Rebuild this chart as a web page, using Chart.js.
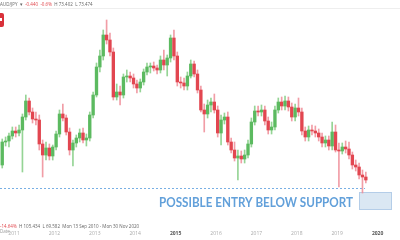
<!DOCTYPE html>
<html><head><meta charset="utf-8">
<script src="https://cdn.jsdelivr.net/npm/chart.js@4/dist/chart.umd.min.js"></script>
<style>
html,body{margin:0;padding:0;background:#fff;width:400px;height:240px;overflow:hidden}
#wrap{position:relative;width:400px;height:240px}
#c{position:absolute;left:0;top:0}
.t{position:absolute;font-family:"Open Sans",sans-serif;font-size:4.5px;line-height:5px;white-space:nowrap;color:#666}
.r{color:#e0464c}
#sep{position:absolute;left:0;top:8px;width:400px;height:1px;background:#eee}
#ico{position:absolute;left:-10px;top:13px;width:14px;height:14px;background:#d9313a;border-radius:2px}
#ico i{position:absolute;left:10px;top:5px;width:2px;height:3px;background:#fff}
</style></head><body>
<div id="wrap">
<canvas id="c" width="400" height="240"></canvas>
<div id="sep"></div>
<div id="ico"><i></i></div>
<div class="t" style="left:0;top:2px">AUD/JPY &nbsp;▾ &nbsp;<span class="r">-0.440 &nbsp;-0.6%</span> &nbsp;H 73.402 &nbsp;L 73.474</div>
<div class="t" style="left:0;top:224px"><span class="r">-14.64%</span> &nbsp;H 105.434 &nbsp;L 69.582 &nbsp;Mon 13 Sep 2010 - Mon 30 Nov 2020</div>
<div class="t" style="left:0;top:229px;color:#999">Date</div>
</div>
<script>
// Monthly AUD/JPY candles
const months = [
 '2010-09','2010-10','2010-11','2010-12',
 '2011-01','2011-02','2011-03','2011-04','2011-05','2011-06','2011-07','2011-08','2011-09','2011-10','2011-11','2011-12',
 '2012-01','2012-02','2012-03','2012-04','2012-05','2012-06','2012-07','2012-08','2012-09','2012-10','2012-11','2012-12',
 '2013-01','2013-02','2013-03','2013-04','2013-05','2013-06','2013-07','2013-08','2013-09','2013-10','2013-11','2013-12',
 '2014-01','2014-02','2014-03','2014-04','2014-05','2014-06','2014-07','2014-08','2014-09','2014-10','2014-11','2014-12',
 '2015-01','2015-02','2015-03','2015-04','2015-05','2015-06','2015-07','2015-08','2015-09','2015-10','2015-11','2015-12',
 '2016-01','2016-02','2016-03','2016-04','2016-05','2016-06','2016-07','2016-08','2016-09','2016-10','2016-11','2016-12',
 '2017-01','2017-02','2017-03','2017-04','2017-05','2017-06','2017-07','2017-08','2017-09','2017-10','2017-11','2017-12',
 '2018-01','2018-02','2018-03','2018-04','2018-05','2018-06','2018-07','2018-08','2018-09','2018-10','2018-11','2018-12',
 '2019-01','2019-02','2019-03','2019-04','2019-05','2019-06','2019-07','2019-08','2019-09'
];
const open = [
 76.4,81.0,81.2,82.2,
 83.2,82.8,83.4,86.0,89.2,87.0,85.6,85.4,80.6,78.4,79.8,78.2,
 80.0,82.6,86.6,85.8,83.0,79.4,80.8,81.8,82.8,81.4,81.8,86.4,
 90.4,96.0,98.2,102.4,101.4,99.0,90.0,91.0,90.4,94.0,94.2,93.8,
 92.6,91.8,93.0,95.0,96.0,96.2,95.8,95.4,97.4,96.4,97.8,101.8,
 98.2,93.0,92.8,92.2,94.2,96.6,94.6,91.4,87.4,86.6,88.4,89.0,
 87.4,82.8,85.4,86.0,81.0,79.4,77.8,78.2,77.6,78.4,80.6,85.0,
 87.2,87.0,87.4,85.2,83.4,84.0,87.4,89.0,88.2,89.2,88.0,86.0,
 87.8,87.0,83.2,82.0,83.4,83.2,82.8,82.0,80.8,81.4,80.2,83.0,
 79.4,79.2,80.0,79.6,78.4,76.4,76.0,74.4,74.0
];
const close = [
 81.0,81.2,82.2,83.2,
 82.8,83.4,86.0,89.2,87.0,85.6,85.4,80.6,78.4,79.8,78.2,80.0,
 82.6,86.6,85.8,83.0,79.4,80.8,81.8,82.8,81.4,81.8,86.4,90.4,
 96.0,98.2,102.4,101.4,99.0,90.0,91.0,90.4,94.0,94.2,93.8,92.6,
 91.8,93.0,95.0,96.0,96.2,95.8,95.4,97.4,96.4,97.8,101.8,98.2,
 93.0,92.8,92.2,94.2,96.6,94.6,91.4,87.4,86.6,88.4,89.0,87.4,
 82.8,85.4,86.0,81.0,79.4,77.8,78.2,77.6,78.4,80.6,85.0,87.2,
 87.0,87.4,85.2,83.4,84.0,87.4,89.0,88.2,89.2,88.0,86.0,87.8,
 87.0,83.2,82.0,83.4,83.2,82.8,82.0,80.8,81.4,80.2,83.0,79.4,
 79.2,80.0,79.6,78.4,76.4,76.0,74.4,74.0,73.4
];
const high = [
 81.6,82.0,82.8,84.0,
 84.0,84.4,86.6,90.4,89.8,87.8,87.0,86.4,81.4,81.0,80.6,80.4,
 83.2,87.4,88.6,86.4,83.8,81.4,82.4,83.6,83.8,82.6,87.0,91.0,
 96.8,99.4,103.4,105.4,102.8,99.8,92.6,92.2,94.6,95.4,95.0,94.6,
 93.4,93.6,95.6,96.8,96.8,97.0,96.4,98.2,99.4,98.4,102.4,103.4,
 99.0,94.0,93.8,95.0,97.4,97.2,95.4,92.2,88.6,89.4,89.8,90.6,
 88.2,86.4,86.8,87.0,81.8,81.0,79.4,79.2,79.4,81.4,85.8,88.2,
 88.2,88.4,88.2,86.0,85.0,88.2,89.8,90.0,90.2,90.0,88.8,88.6,
 89.8,87.8,84.0,84.2,84.4,84.2,83.6,82.8,82.2,82.2,85.0,84.4,
 80.8,80.8,81.2,81.0,79.0,77.4,76.8,75.4,75.0
];
const low = [
 75.8,80.2,80.0,81.6,
 82.0,82.2,75.0,85.4,86.4,84.8,84.4,79.4,74.0,77.4,77.4,77.4,
 79.4,82.0,85.2,82.4,78.4,76.2,80.0,81.0,80.8,80.2,81.2,85.8,
 90.0,95.0,97.4,100.6,98.2,89.4,89.4,88.4,89.8,93.0,93.0,91.8,
 90.8,91.0,92.4,94.4,94.8,95.2,94.6,94.8,95.4,94.2,97.0,97.4,
 92.2,91.8,91.4,91.4,93.8,94.0,90.8,87.0,83.0,85.8,87.0,86.8,
 82.0,80.4,84.6,80.4,78.8,77.2,73.4,76.8,76.8,77.8,80.0,84.4,
 86.2,86.2,84.4,82.6,82.6,83.4,86.8,87.4,87.4,87.2,85.2,85.2,
 86.2,82.4,81.2,81.2,82.4,82.0,81.2,80.0,80.0,79.4,79.4,79.0,
 72.0,78.6,78.8,77.6,75.6,75.2,73.6,70.8,72.8
];
const yearLabels = [2011,2012,2013,2014,2015,2016,2017,2018,2019,2020];
const boldYears = [2015,2020];
const supportLevel = 71.8;
const entryZone = {x0: 2019.54, x1: 2020.33, yTop: 71.0, yBottom: 67.6};
const annotationText = 'POSSIBLE ENTRY BELOW SUPPORT';

function toX(m){ const p = m.split('-'); return +p[0] + (+p[1]-1)/12 + 1/24; }
const up = i => close[i] >= open[i];
const bodyUp = 'rgb(92,186,96)', bodyDn = 'rgb(226,70,80)';
const wickUp = 'rgba(130,205,130,0.85)', wickDn = 'rgba(238,140,150,0.85)';

const annot = {
  id: 'annot',
  beforeDatasetsDraw(chart){
    const {ctx, scales:{x, y}} = chart;
    ctx.save();
    const bx0 = x.getPixelForValue(entryZone.x0), bx1 = x.getPixelForValue(entryZone.x1);
    const by0 = y.getPixelForValue(entryZone.yTop), by1 = y.getPixelForValue(entryZone.yBottom);
    ctx.fillStyle = 'rgba(214,228,242,0.9)';
    ctx.fillRect(bx0, by0, bx1-bx0, by1-by0);
    ctx.strokeStyle = 'rgba(180,205,232,1)';
    ctx.lineWidth = 1;
    ctx.strokeRect(Math.round(bx0)+0.5, Math.round(by0)+0.5, Math.round(bx1-bx0), Math.round(by1-by0));
    const sy = Math.round(y.getPixelForValue(supportLevel)) + 0.5;
    ctx.strokeStyle = 'rgb(120,175,228)';
    ctx.setLineDash([2,2]);
    ctx.beginPath();
    ctx.moveTo(0, sy);
    ctx.lineTo(bx0 + 6, sy);
    ctx.stroke();
    ctx.setLineDash([]);
    ctx.fillStyle = 'rgb(98,160,218)';
    ctx.font = 'bold 14px Lato, "Open Sans", sans-serif';
    ctx.textBaseline = 'alphabetic';
    ctx.textAlign = 'right';
    ctx.fillText(annotationText, bx0 - 6, by0 + 15, 194);
    ctx.restore();
  }
};

new Chart(document.getElementById('c'), {
  data: {
    datasets: [
      {
        type: 'bar', grouped: false, order: 2,
        data: months.map((m,i)=>({x: toX(m), y: [low[i], high[i]]})),
        backgroundColor: months.map((m,i)=> up(i) ? wickUp : wickDn),
        barThickness: 1, borderWidth: 0
      },
      {
        type: 'bar', grouped: false, order: 1,
        data: months.map((m,i)=>({x: toX(m), y: [open[i], close[i] === open[i] ? close[i] + 0.1 : close[i]]})),
        backgroundColor: months.map((m,i)=> up(i) ? bodyUp : bodyDn),
        barThickness: 2.7, borderWidth: 0, minBarLength: 1
      }
    ]
  },
  options: {
    responsive: false, animation: false, devicePixelRatio: 1,
    layout: {padding: 0},
    plugins: {legend: {display: false}, tooltip: {enabled: false}},
    scales: {
      x: {
        type: 'linear', min: 2010.653, max: 2020.554, offset: false,
        grid: {display: false, drawTicks: false}, border: {display: false},
        afterFit: s => { s.height = 14; },
        ticks: {
          stepSize: 1, includeBounds: false, autoSkip: false, maxRotation: 0, padding: 5,
          callback: v => yearLabels.includes(v) ? String(v) : '',
          color: c => boldYears.includes(c.tick && c.tick.value) ? '#555' : '#aaa',
          font: c => ({family: 'Open Sans, sans-serif', size: 5, weight: boldYears.includes(c.tick && c.tick.value) ? 'bold' : 'normal'})
        }
      },
      y: {display: false, min: 64.2, max: 109.4}
    }
  },
  plugins: [annot]
});
</script>
</body></html>
